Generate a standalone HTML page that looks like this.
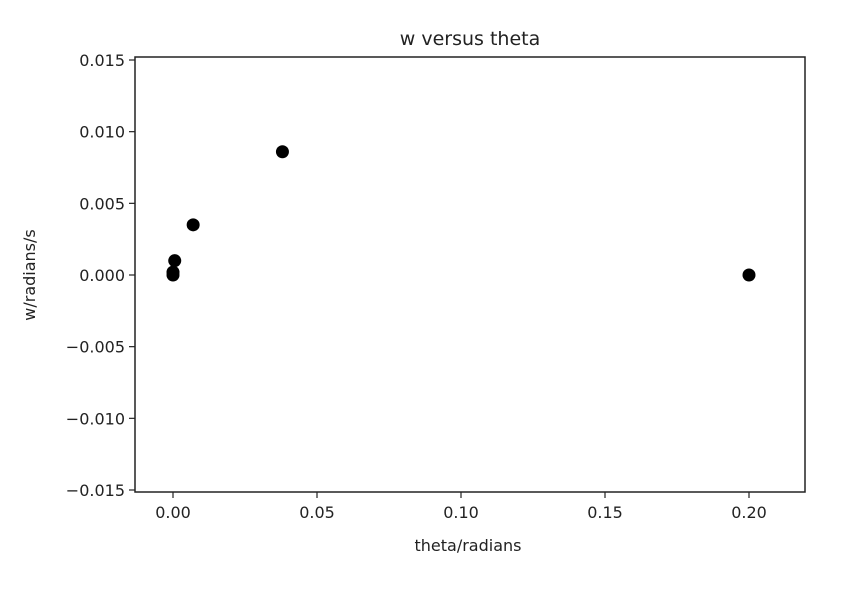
<!DOCTYPE html>
<html><head><meta charset="utf-8"><style>
body{margin:0;background:#fff;font-family:"Liberation Sans","DejaVu Sans",sans-serif}
text{font-family:"DejaVu Sans","Liberation Sans",sans-serif;fill:#222}
</style></head><body>
<svg id="chart" width="860" height="584">
<text x="470" y="45" font-size="19" text-anchor="middle">w versus theta</text>
<g id="axes"></g>
<g id="points"></g>
<text x="468" y="551" font-size="16" text-anchor="middle">theta/radians</text>
<text x="0" y="0" font-size="16" text-anchor="middle" transform="translate(35,275) rotate(-90)">w/radians/s</text>
<rect x="135" y="57" width="670" height="435" fill="none" stroke="#222" stroke-width="1.5"/>
</svg>
<script>
const xVals=[0,0,0.0006,0.0070,0.0380,0.2000];
const yVals=[0,0.0002,0.0010,0.0035,0.0086,0];
const xTicks=[0,0.05,0.10,0.15,0.20];
const xTickLabels=["0.00","0.05","0.10","0.15","0.20"];
const yTicks=[0.015,0.010,0.005,0,-0.005,-0.010,-0.015];
const yTickLabels=["0.015","0.010","0.005","0.000","\u22120.005","\u22120.010","\u22120.015"];
const NS="http://www.w3.org/2000/svg";
const xs=v=>173+v*2880;
const ys=v=>275-v*14333;
const ax=document.getElementById('axes'),pt=document.getElementById('points');
function mk(t,a,p){const e=document.createElementNS(NS,t);for(const k in a)e.setAttribute(k,a[k]);p.appendChild(e);return e;}
xTicks.forEach((v,i)=>{
 const l=mk('line',{x1:xs(v),x2:xs(v),y1:492,y2:498,stroke:'#222','stroke-width':1.2},ax);
 
 
 const t=mk('text',{x:xs(v),y:518,'font-size':16,'text-anchor':'middle'},ax);t.textContent=xTickLabels[i];
 
 
});
yTicks.forEach((v,i)=>{
 const l=mk('line',{x1:129,x2:135,y1:ys(v),y2:ys(v),stroke:'#222','stroke-width':1.2},ax);
 
 
 const t=mk('text',{x:125,y:ys(v)+6,'font-size':16,'text-anchor':'end'},ax);t.textContent=yTickLabels[i];
 
 
});
xVals.forEach((v,i)=>{
 const c=mk('circle',{cx:xs(v),cy:ys(yVals[i]),r:6.5,fill:'#000'},pt);
 
 
});
</script>
</body></html>
